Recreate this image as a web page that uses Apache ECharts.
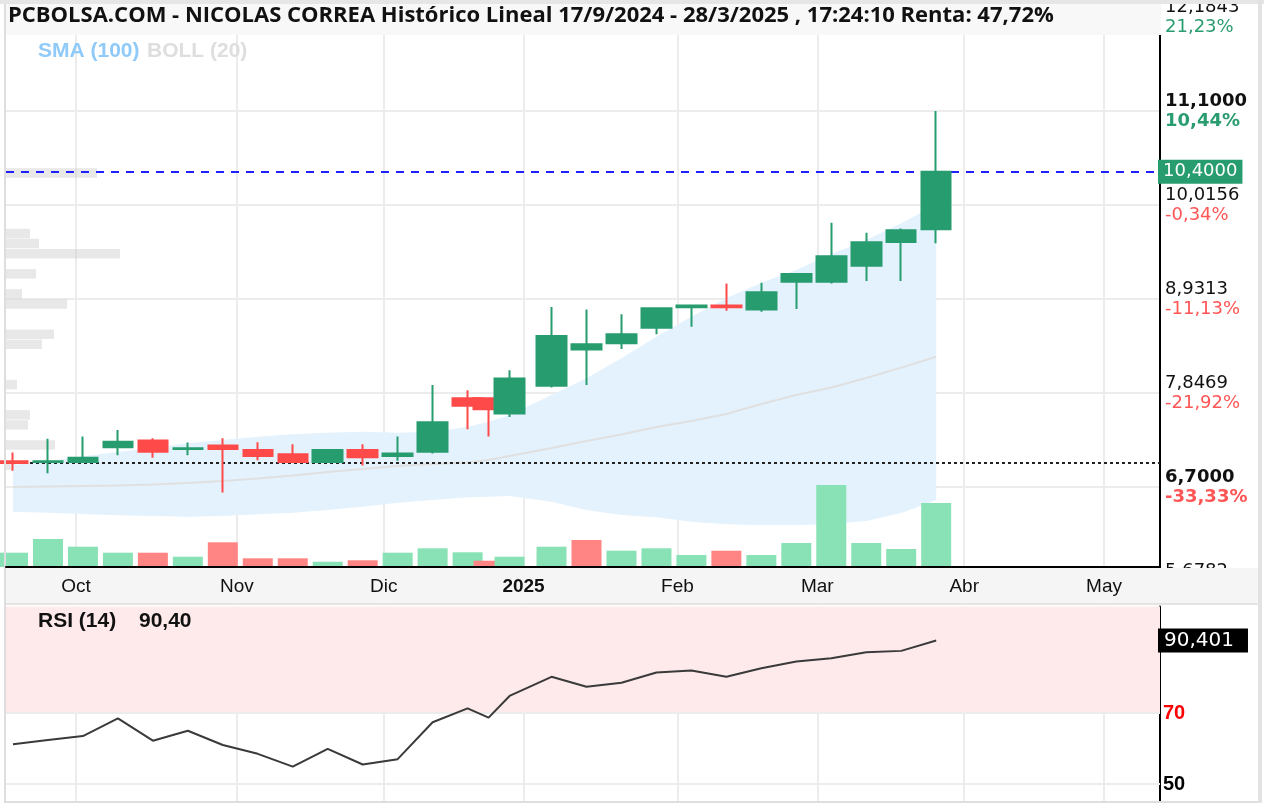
<!DOCTYPE html>
<html>
<head>
<meta charset="utf-8">
<title>NICOLAS CORREA - Histórico</title>
<script src="https://cdn.jsdelivr.net/npm/echarts@6/dist/echarts.min.js"></script>
<style>
html,body{margin:0;padding:0;background:#fff;}
#chart{width:1264px;height:808px;}
</style>
</head>
<body>
<div id="chart"></div>
<script>
// velas semanales (fecha donde se dibuja cada vela)
var weeks = ['2024-09-18','2024-09-25','2024-10-02','2024-10-09','2024-10-16','2024-10-23','2024-10-30',
  '2024-11-06','2024-11-13','2024-11-20','2024-11-27','2024-12-04','2024-12-11','2024-12-18','2024-12-23',
  '2024-12-30','2025-01-08','2025-01-15','2025-01-22','2025-01-29','2025-02-05','2025-02-12','2025-02-19',
  '2025-02-26','2025-03-05','2025-03-12','2025-03-19','2025-03-26'];
var open  = [7.06,7.05,7.05,7.22,7.30,7.20,7.24,7.19,7.14,7.05,7.19,7.12,7.17,7.785,7.785,7.61,7.93,8.35,8.42,8.60,8.835,8.855,8.81,9.13,9.13,9.315,9.59,9.735];
var close = [7.04,7.06,7.10,7.285,7.17,7.21,7.20,7.12,7.05,7.19,7.105,7.15,7.51,7.70,7.66,8.015,8.505,8.41,8.525,8.825,8.855,8.835,9.01,9.22,9.425,9.585,9.725,10.40];
var low   = [6.95,6.92,7.05,7.13,7.10,7.13,6.70,7.07,7.05,7.05,7.01,7.065,7.15,7.43,7.345,7.57,7.91,7.94,8.355,8.525,8.61,8.795,8.785,8.815,9.11,9.14,9.14,9.575];
var high  = [7.16,7.32,7.345,7.42,7.325,7.275,7.325,7.28,7.255,7.19,7.255,7.345,7.94,7.88,7.79,8.11,8.84,8.81,8.755,8.83,8.86,9.11,9.12,9.22,9.81,9.695,9.745,11.10];
var volume = [14300,28000,20300,14300,14300,10300,24700,8700,8700,5300,6700,14300,18700,14700,6300,10300,20300,27000,16300,18700,12000,16300,12000,24000,82000,24000,18000,64000];

// bollinger (20) y media
var bollUp  = [7.016,7.06,7.116,7.166,7.216,7.266,7.304,7.343,7.37,7.389,7.40,7.389,7.40,7.458,7.516,7.593,7.824,8.016,8.247,8.496,8.727,8.939,9.12,9.266,9.45,9.612,9.804,10.016];
var bollMid = [6.762,6.768,6.774,6.779,6.791,6.808,6.831,6.86,6.895,6.935,6.97,7.004,7.027,7.045,7.074,7.12,7.212,7.293,7.368,7.454,7.524,7.604,7.72,7.824,7.91,8.02,8.14,8.265];
var bollLow = [6.477,6.466,6.45,6.436,6.428,6.42,6.428,6.447,6.466,6.497,6.535,6.581,6.612,6.643,6.65,6.658,6.593,6.497,6.439,6.413,6.362,6.332,6.324,6.324,6.335,6.37,6.462,6.612];

// RSI (14)
var rsi = [61.2,62.4,63.5,68.5,62.2,65.0,61.0,58.5,54.9,59.9,55.5,57.0,67.4,71.3,68.7,74.8,80.2,77.4,78.5,81.4,82.0,80.2,82.6,84.5,85.4,87.1,87.5,90.4];

// volumen por precio (barras grises de la izquierda)
var profilePrice = [10.40,9.72,9.61,9.40,9.17,8.96,8.84,8.53,8.41,7.97,7.65,7.53,7.19,7.01];
var profileVol   = [91000,24000,33000,114000,30000,16000,61000,48000,36000,11000,24000,22000,49000,9000];

// eje de precios
var priceMin = 5.6782, priceMax = 12.1843;
var priceTicks = ['5,6782','6,7000','7,8469','8,9313','10,0156','11,1000','12,1843'];
var pctTicks   = ['-43,50%','-33,33%','-21,92%','-11,13%','-0,34%','10,44%','21,23%'];
var boldTicks  = [1,5];
var lastPrice = 10.40, startPrice = 7.04, lastRsi = 90.401;

var holidays = ['2024-12-25','2024-12-26','2025-01-01','2025-04-18','2025-04-21','2025-05-01'];
var monthNames = ['Ene','Feb','Mar','Abr','May','Jun','Jul','Ago','Sep','Oct','Nov','Dic'];

var GREEN = '#279c6f', RED = '#ff4a4a';
var VGREEN = '#88e2b5', VRED = '#ff8585';
var GRIDC = '#ececec';

// dias de mercado
var days = [], monthStart = {};
var d = new Date(Date.UTC(2024, 8, 17));
var prevMonth = 8;
while (d.getTime() <= Date.UTC(2025, 4, 14)) {
	var wd = d.getUTCDay();
	var s = d.toISOString().slice(0, 10);
	if (wd > 0 && wd < 6 && holidays.indexOf(s) < 0) {
		if (d.getUTCMonth() != prevMonth) {
			monthStart[days.length] = true;
			prevMonth = d.getUTCMonth();
		}
		days.push(s);
	}
	d.setUTCDate(d.getUTCDate() + 1);
}
function isMonth(i){ return monthStart[i] === true; }

var candleData = [], volData = [], midData = [], lowData = [], widthData = [], rsiData = [];
for (var i = 0; i < weeks.length; i++) {
	candleData.push([weeks[i], open[i], close[i], low[i], high[i]]);
	var upDay = i == 0 || close[i] >= close[i-1];
	volData.push({value: [weeks[i], volume[i]], itemStyle: {color: upDay ? VGREEN : VRED}});
	lowData.push([weeks[i], bollLow[i]]);
	widthData.push([weeks[i], +(bollUp[i] - bollLow[i]).toFixed(4)]);
	midData.push([weeks[i], bollMid[i]]);
	rsiData.push([weeks[i], rsi[i]]);
}

var binCount = 56, binSize = (priceMax - priceMin) / binCount;
var bins = [], profileData = [];
for (var k = 0; k < binCount; k++) { bins.push((priceMin + k * binSize).toFixed(3)); profileData.push(0); }
for (var j = 0; j < profilePrice.length; j++) {
	profileData[Math.floor((profilePrice[j] - priceMin) / binSize)] = profileVol[j];
}

function mkGrid(top, height){
	return {left: 6, right: 104, top: top, height: height, containLabel: false, outerBoundsMode: 'none'};
}
function catAxis(idx, extra){
	var ax = {type: 'category', gridIndex: idx, data: days, boundaryGap: false,
		axisLine: {show: false}, axisTick: {show: false}, axisLabel: {show: false},
		splitLine: {show: false}};
	for (var key in extra) ax[key] = extra[key];
	return ax;
}
var monthSplit = {show: true, interval: function(i){ return isMonth(i); }, lineStyle: {color: GRIDC, width: 2}};
var axisFont = 'Liberation Sans, Arial, sans-serif';
var numFont = 'DejaVu Sans, Verdana, sans-serif';
function boxLabel(text, bg, size, pad){
	return {show: true, position: 'end', distance: -2, formatter: text, fontFamily: numFont, fontSize: size,
		color: '#fff', backgroundColor: bg, padding: pad, lineHeight: 20};
}

var option = {
	animation: false,
	backgroundColor: '#fff',
	grid: [mkGrid(17, 564), mkGrid(467, 100), mkGrid(17, 564), mkGrid(606.5, 213)],
	xAxis: [
		catAxis(0, {splitLine: monthSplit}),
		catAxis(1, {z: 110,
			axisLine: {show: true, lineStyle: {color: '#000', width: 2}},
			axisLabel: {show: true, interval: function(i){ return isMonth(i); }, margin: 10,
				fontFamily: axisFont, fontSize: 19, color: '#111',
				formatter: function(v){
					var m = +v.slice(5, 7) - 1;
					if (m == 0) return '{y|' + v.slice(0, 4) + '}';
					return monthNames[m];
				},
				rich: {y: {fontFamily: axisFont, fontSize: 19, fontWeight: 'bold', color: '#111'}}
			}}),
		{type: 'value', gridIndex: 2, min: 0, max: 1154000, show: false},
		catAxis(3, {splitLine: monthSplit})
	],
	yAxis: [
		{type: 'value', gridIndex: 0, position: 'right', min: priceMin, max: priceMax,
			interval: (priceMax - priceMin) / 6,
			axisLine: {show: true, lineStyle: {color: '#000', width: 2}},
			axisTick: {show: false},
			splitLine: {show: true, lineStyle: {color: GRIDC, width: 2}},
			axisLabel: {margin: 5, showMinLabel: true, showMaxLabel: true,
				formatter: function(v){
					var i = Math.round((v - priceMin) / ((priceMax - priceMin) / 6));
					var b = boldTicks.indexOf(i) >= 0 ? 'b' : '';
					var p = pctTicks[i];
					var cls = (p.charAt(0) == '-' ? 'dn' : 'up') + b;
					return '{v' + b + '|' + priceTicks[i] + '}\n{' + cls + '|' + p + '}';
				},
				rich: {
					v: {fontFamily: numFont, fontSize: 18, color: '#111', lineHeight: 20},
					vb: {fontFamily: numFont, fontSize: 18, color: '#111', fontWeight: 'bold', lineHeight: 20},
					up: {fontFamily: numFont, fontSize: 18, color: '#2a9d70', lineHeight: 20},
					upb: {fontFamily: numFont, fontSize: 18, color: '#2a9d70', fontWeight: 'bold', lineHeight: 20},
					dn: {fontFamily: numFont, fontSize: 18, color: '#ff5555', lineHeight: 20},
					dnb: {fontFamily: numFont, fontSize: 18, color: '#ff5555', fontWeight: 'bold', lineHeight: 20}
				}
			}},
		{type: 'value', gridIndex: 1, min: 0, max: 100000, show: false},
		{type: 'category', gridIndex: 2, data: bins, show: false},
		{type: 'value', gridIndex: 3, position: 'right', min: 40, max: 100, interval: 10,
			axisLine: {show: true, lineStyle: {color: '#000', width: 2}},
			axisTick: {show: false},
			splitLine: {show: false},
			axisLabel: {margin: 3,
				formatter: function(v){
					if (v == 70) return '{r|70}';
					if (v == 50) return '{k|50}';
					return '';
				},
				rich: {
					r: {fontFamily: axisFont, fontSize: 20, fontWeight: 'bold', color: '#ff0000'},
					k: {fontFamily: axisFont, fontSize: 20, fontWeight: 'bold', color: '#000'}
				}
			}}
	],
	series: [
		{type: 'bar', name: 'perfil', xAxisIndex: 2, yAxisIndex: 2, data: profileData,
			barCategoryGap: '6%', itemStyle: {color: 'rgba(200,200,200,0.42)'}, silent: true, z: 1},
		{type: 'line', name: 'bollLow', xAxisIndex: 0, yAxisIndex: 0, data: lowData, stack: 'boll',
			symbol: 'none', lineStyle: {opacity: 0}, silent: true, z: 2},
		{type: 'line', name: 'boll', xAxisIndex: 0, yAxisIndex: 0, data: widthData, stack: 'boll',
			symbol: 'none', lineStyle: {opacity: 0}, areaStyle: {color: '#e3f2fd', opacity: 1}, silent: true, z: 2},
		{type: 'line', name: 'bollMid', xAxisIndex: 0, yAxisIndex: 0, data: midData,
			symbol: 'none', lineStyle: {color: '#e0e0e0', width: 2}, silent: true, z: 3},
		{type: 'bar', name: 'volumen', xAxisIndex: 1, yAxisIndex: 1, data: volData, barWidth: 30, silent: true, z: 4},
		{type: 'candlestick', name: 'NICOLAS CORREA', xAxisIndex: 0, yAxisIndex: 0, data: candleData,
			encode: {x: 0, y: [1, 2, 3, 4]}, barWidth: 30, z: 5,
			itemStyle: {color: GREEN, color0: RED, borderColor: GREEN, borderColor0: RED, borderWidth: 2},
			markLine: {silent: true, symbol: ['none', 'none'],
				data: [
					{yAxis: lastPrice, lineStyle: {color: '#2020ff', type: [8, 7], width: 2},
						label: boxLabel('10,4000', GREEN, 18, [2, 5, 2, 5])},
					{yAxis: startPrice, lineStyle: {color: '#222', type: [3, 3], width: 2}, label: {show: false}}
				]}
		},
		{type: 'line', name: 'RSI (14)', xAxisIndex: 3, yAxisIndex: 3, data: rsiData,
			symbol: 'none', lineStyle: {color: '#3a3a3a', width: 2}, z: 5,
			markArea: {silent: true, itemStyle: {color: '#feeaea'}, data: [[{yAxis: 70}, {yAxis: 100}]]},
			markLine: {silent: true, symbol: ['none', 'none'],
				data: [
					{yAxis: 70, lineStyle: {color: GRIDC, type: 'solid', width: 2}, label: {show: false}},
					{yAxis: 50, lineStyle: {color: GRIDC, type: 'solid', width: 2}, label: {show: false}},
					{yAxis: lastRsi, lineStyle: {color: 'rgba(0,0,0,0)', width: 0},
						label: boxLabel('90,401', '#000', 20, [2, 14, 2, 6])}
				]}
		}
	],
	graphic: [
		{type: 'rect', z: 100, silent: true, shape: {x: 0, y: 0, width: 1264, height: 4}, style: {fill: '#e6e6e6'}},
		{type: 'rect', z: 100, silent: true, shape: {x: 4, y: 4, width: 1157, height: 31}, style: {fill: '#f8f8f8'}},
		{type: 'text', z: 101, silent: true, left: 8, top: 5,
			style: {text: 'PCBOLSA.COM - NICOLAS CORREA Histórico Lineal 17/9/2024 - 28/3/2025 , 17:24:10 Renta: 47,72%',
				font: 'bold 22px "Open Sans", "Noto Sans", sans-serif', fill: '#111'}},
		{type: 'text', z: 101, silent: true, left: 38, top: 41,
			style: {text: 'SMA (100)', font: 'bold 21px "Liberation Sans", Arial, sans-serif', fill: '#90caf9'}},
		{type: 'text', z: 101, silent: true, left: 147, top: 41,
			style: {text: 'BOLL (20)', font: 'bold 21px "Liberation Sans", Arial, sans-serif', fill: '#dedede'}},
		{type: 'rect', z: 100, silent: true, shape: {x: 4, y: 568, width: 1256, height: 35}, style: {fill: '#f5f5f5'}},
		{type: 'rect', z: 100, silent: true, shape: {x: 4, y: 603, width: 1256, height: 2}, style: {fill: '#e4e4e4'}},
		{type: 'text', z: 101, silent: true, left: 38, top: 611,
			style: {text: 'RSI (14)', font: 'bold 21px "Liberation Sans", Arial, sans-serif', fill: '#111'}},
		{type: 'text', z: 101, silent: true, left: 139, top: 611,
			style: {text: '90,40', font: 'bold 21px "Liberation Sans", Arial, sans-serif', fill: '#111'}},
		{type: 'rect', z: 100, silent: true, shape: {x: 0, y: 803, width: 1264, height: 5}, style: {fill: '#fff'}},
		{type: 'rect', z: 100, silent: true, shape: {x: 4, y: 801, width: 1258, height: 2}, style: {fill: '#dedede'}},
		{type: 'rect', z: 100, silent: true, shape: {x: 4, y: 4, width: 2, height: 798}, style: {fill: '#dedede'}},
		{type: 'rect', z: 100, silent: true, shape: {x: 1258, y: 0, width: 4, height: 803}, style: {fill: '#e2e2e2'}}
	]
};

var chart = echarts.init(document.getElementById('chart'));
chart.setOption(option);
</script>
</body>
</html>
